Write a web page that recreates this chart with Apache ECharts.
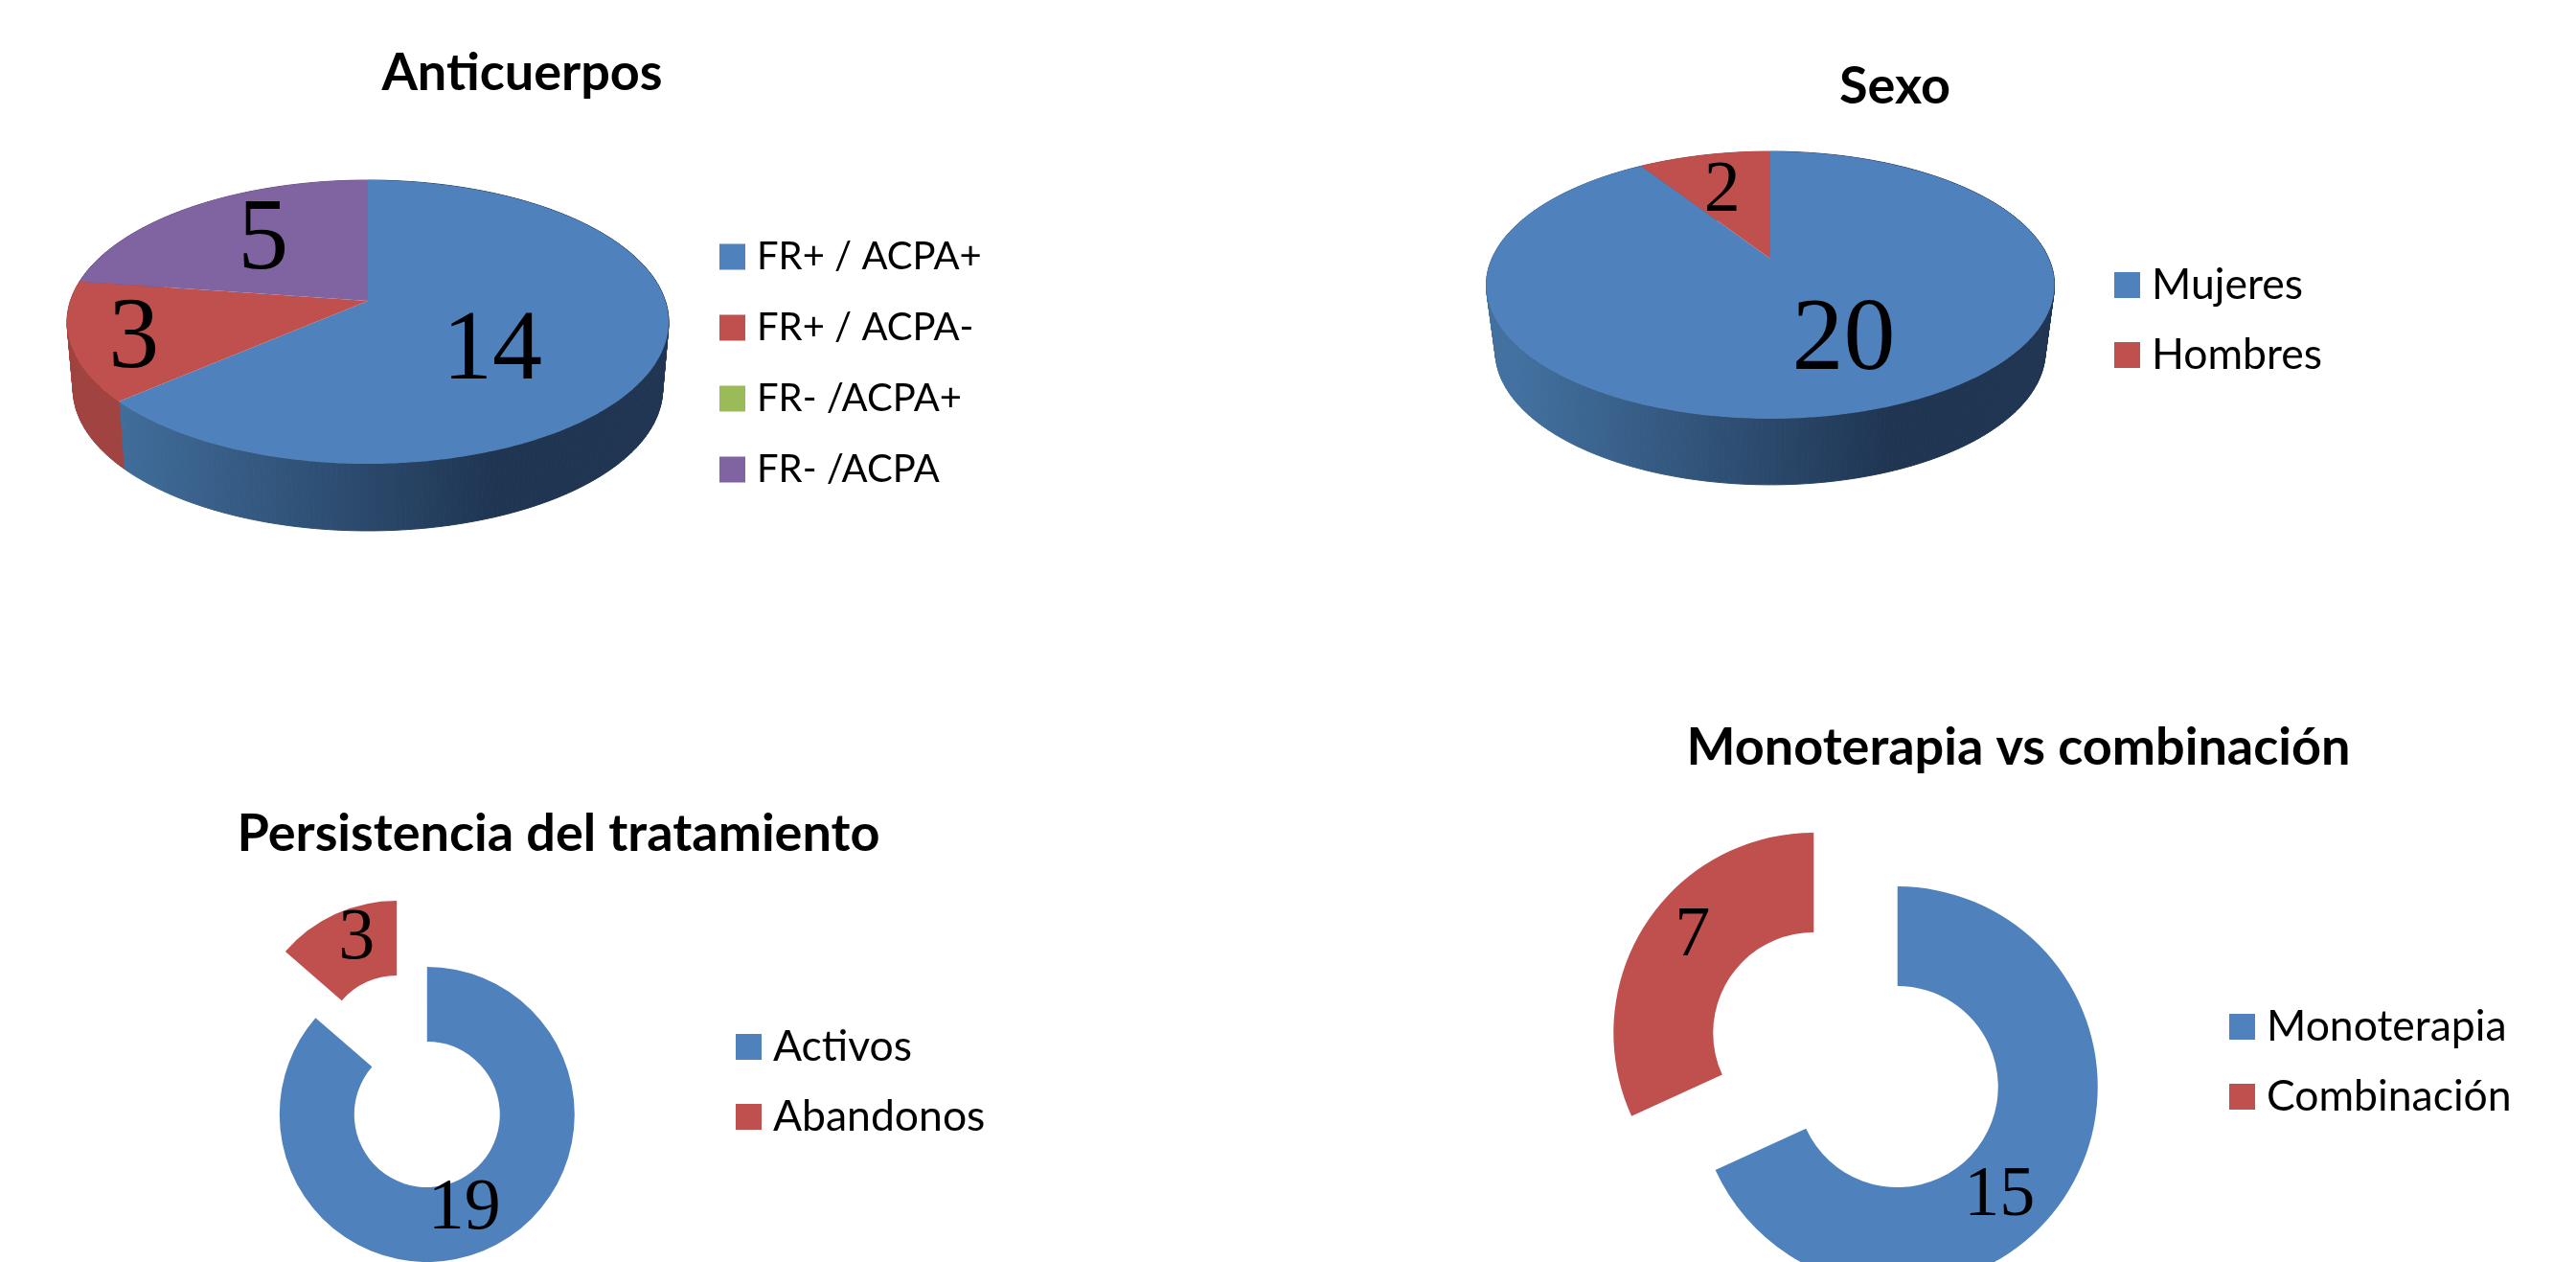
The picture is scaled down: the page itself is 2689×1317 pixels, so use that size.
<!DOCTYPE html>
<html>
<head>
    <meta charset="UTF-8">
    <title>Anticuerpos, sexo, persistencia y terapia</title>
    <script src="https://cdn.jsdelivr.net/npm/echarts@6/dist/echarts.min.js"></script>
    <style>
        *{margin:0;padding:0}
        html,body{width:100%;height:100%;background:#fff;overflow:hidden}
        #main{width:2689px;height:1317px}
    </style>
</head>
<body>
    <div id="main"></div>
    <script type="text/javascript">
        var anticuerposCats = ['FR+ / ACPA+', 'FR+ / ACPA-', 'FR- /ACPA+', 'FR- /ACPA'];
        var anticuerposVals = [14, 3, 0, 5];
        var sexoCats = ['Mujeres', 'Hombres'];
        var sexoVals = [20, 2];
        var persistenciaCats = ['Activos', 'Abandonos'];
        var persistenciaVals = [19, 3];
        var terapiaCats = ['Monoterapia', 'Combinación'];
        var terapiaVals = [15, 7];
        var sliceColors = ['#4F81BD', '#C0504D', '#9BBB59', '#8064A2'];
        var wallColors = [null, '#A14340', '#7F9A48', '#654F80'];

        var titleFont = 'Lato';
        var serifFont = '"Liberation Serif"';

        var myChart = echarts.init(document.getElementById('main'));

        // pie 3D hecho a mano: disco proyectado con una homografia (el vertice no cae en el centro de la elipse)
        function project(view, u, v) {
            var w = 1 + view.a * v;
            return [view.cx + view.rx * u / w, view.cy + view.ry * v / w];
        }
        function pie3dSeries(cats, vals, view) {
            var total = 0, i;
            for (i = 0; i < vals.length; i++) total += vals[i];
            var sum = 0;
            return cats.map(function (name, idx) {
                var row = [vals[idx], sum, total];
                sum += vals[idx];
                return {
                    type: 'custom',
                    name: name,
                    coordinateSystem: 'none',
                    silent: true,
                    itemStyle: {color: sliceColors[idx]},
                    data: [row],
                    renderItem: function (params, api) {
                        var val = api.value(0);
                        if (!val) return {type: 'group', children: []};
                        var a0 = api.value(1) / api.value(2) * Math.PI * 2;
                        var a1 = a0 + val / api.value(2) * Math.PI * 2;
                        var top = [], bottom = [];
                        var steps = Math.max(4, Math.ceil((a1 - a0) * 60));
                        for (var s = 0; s <= steps; s++) {
                            var t = a0 + (a1 - a0) * s / steps;
                            var p = project(view, Math.sin(t), -Math.cos(t));
                            top.push(p);
                            bottom.push([view.cx + (p[0] - view.cx) * view.shrink, p[1] + view.depth]);
                        }
                        var wallFill = wallColors[idx];
                        if (!wallFill) {
                            wallFill = new echarts.graphic.LinearGradient(
                                view.cx - 0.9 * view.rx, 0, view.cx + 0.43 * view.rx, 0,
                                [{offset: 0, color: '#42709F'}, {offset: 1, color: '#1F3552'}], true);
                        }
                        var mid = (a0 + a1) / 2;
                        var lp = project(view, 0.6 * Math.sin(mid), -0.6 * Math.cos(mid));
                        var children = [];
                        // la pared va por cuadrilateros para que el borde lateral salga recto
                        for (var q = 0; q < steps; q++) {
                            children.push({
                                type: 'polygon',
                                z2: 1,
                                shape: {points: [top[q], top[q + 1], bottom[q + 1], bottom[q]]},
                                style: {fill: wallFill, stroke: wallFill, lineWidth: 1}
                            });
                        }
                        children.push({
                            type: 'polygon',
                            z2: 2,
                            shape: {points: [[view.cx, view.cy]].concat(top)},
                            style: {fill: sliceColors[idx]}
                        });
                        children.push({
                            type: 'text',
                            z2: 3,
                            x: lp[0] + view.labelShift[idx][0],
                            y: lp[1] + view.labelShift[idx][1],
                            style: {
                                text: String(val),
                                fill: '#000',
                                align: 'center',
                                verticalAlign: 'middle',
                                font: view.labelSize[idx] + 'px ' + serifFont
                            }
                        });
                        return {type: 'group', children: children};
                    }
                };
            });
        }

        function donutSeries(cats, vals, view) {
            return {
                type: 'pie',
                center: view.center,
                radius: view.radius,
                startAngle: 90,
                clockwise: true,
                avoidLabelOverlap: false,
                selectedMode: 'multiple',
                selectedOffset: view.offset,
                silent: true,
                emphasis: {disabled: true},
                label: {
                    show: true,
                    position: 'inside',
                    formatter: '{c}',
                    color: '#000',
                    fontFamily: 'Liberation Serif',
                    fontSize: view.labelSize
                },
                labelLine: {show: false},
                labelLayout: function (params) {
                    return {dx: view.labelShift[params.dataIndex][0], dy: view.labelShift[params.dataIndex][1]};
                },
                data: cats.map(function (name, i) {
                    return {name: name, value: vals[i], selected: true, itemStyle: {color: sliceColors[i]}};
                })
            };
        }

        function legendAt(cats, left, top, size, gap) {
            return {
                data: cats,
                orient: 'vertical',
                left: left,
                top: top,
                icon: 'rect',
                itemWidth: 27,
                itemHeight: 27,
                itemGap: gap,
                selectedMode: false,
                padding: 0,
                textStyle: {
                    fontFamily: titleFont,
                    fontSize: size,
                    lineHeight: 40,
                    color: '#000',
                    padding: [0, 0, 0, 7]
                }
            };
        }

        function titleAt(text, x, y) {
            return {
                text: text,
                left: x,
                top: y,
                textAlign: 'center',
                textVerticalAlign: 'middle',
                padding: 0,
                textStyle: {fontFamily: titleFont, fontWeight: 'bold', fontSize: 54, color: '#000'}
            };
        }

        var series = []
            .concat(pie3dSeries(anticuerposCats, anticuerposVals, {
                cx: 384, cy: 314, rx: 310.5, ry: 144.7, a: -0.1486,
                depth: 70, shrink: 0.98,
                labelShift: [[-46, 16], [-61, 16], [0, 0], [5, 0]],
                labelSize: [104, 106, 106, 106]
            }))
            .concat(pie3dSeries(sexoCats, sexoVals, {
                cx: 1848, cy: 270, rx: 290.7, ry: 134, a: -0.197,
                depth: 69, shrink: 0.968,
                labelShift: [[21, 0], [-6, -1]],
                labelSize: [108, 76]
            }))
            .concat([
                donutSeries(persistenciaCats, persistenciaVals, {
                    center: [430, 1128.5], radius: [76, 154], offset: 38,
                    labelSize: 76, labelShift: [[-10, -8], [7, -7]]
                }),
                donutSeries(terapiaCats, terapiaVals, {
                    center: [1937, 1106], radius: [105, 209], offset: 52,
                    labelSize: 74, labelShift: [[-28, 28], [8, -14]]
                })
            ]);

        option = {
            backgroundColor: '#fff',
            animation: false,
            title: [
                titleAt('Anticuerpos', 545, 77),
                titleAt('Sexo', 1978, 91),
                titleAt('Persistencia del tratamiento', 583, 871),
                titleAt('Monoterapia vs combinación', 2107, 781)
            ],
            legend: [
                legendAt(anticuerposCats, 751, 248, 40, 34),
                legendAt(sexoCats, 2207, 275, 44.5, 28),
                legendAt(persistenciaCats, 768, 1070, 44.5, 28),
                legendAt(terapiaCats, 2327, 1049, 44.5, 28)
            ],
            series: series
        };
        myChart.setOption(option);
    </script>
</body>
</html>
